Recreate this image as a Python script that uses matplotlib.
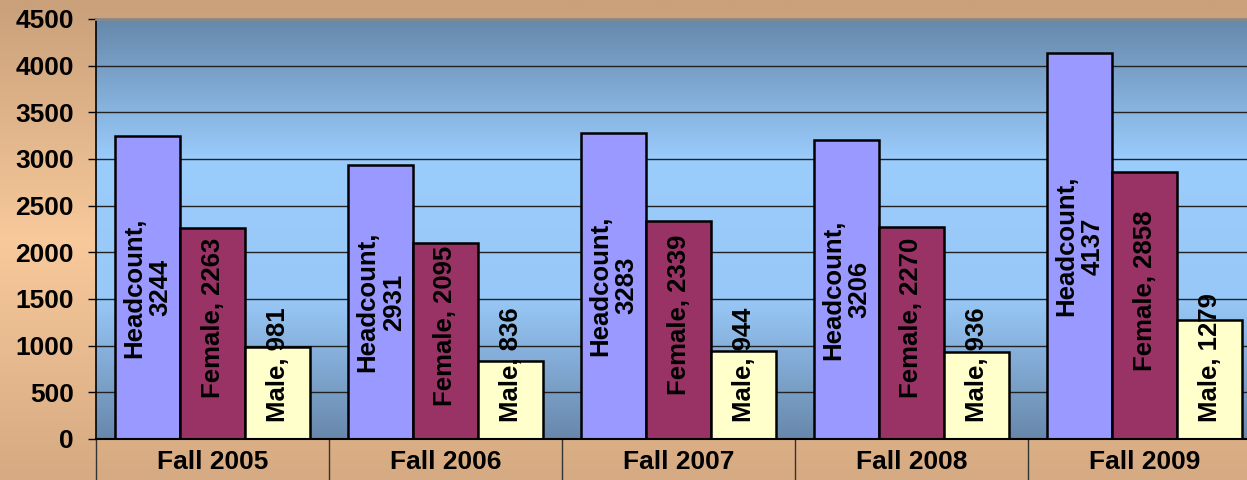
import matplotlib.pyplot as plt
import numpy as np
from matplotlib.colors import LinearSegmentedColormap

plt.rcParams['font.family'] = ['Liberation Sans', 'DejaVu Sans']
plt.rcParams['font.weight'] = 'bold'

terms = ["Fall 2005", "Fall 2006", "Fall 2007", "Fall 2008", "Fall 2009"]
headcount = [3244, 2931, 3283, 3206, 4137]
female = [2263, 2095, 2339, 2270, 2858]
male = [981, 836, 944, 936, 1279]
y_ticks = [0, 500, 1000, 1500, 2000, 2500, 3000, 3500, 4000, 4500]

fig = plt.figure(figsize=(12.47, 4.8), dpi=100)

# tan background of the whole figure
bg = fig.add_axes([0, 0, 1, 1], zorder=-10)
tan = LinearSegmentedColormap.from_list("tan", ["#d6aa82", "#f7c99b", "#c9a07a"])
bg.imshow(np.linspace(0, 1, 256).reshape(-1, 1), cmap=tan, aspect='auto',
          extent=[0, 1, 0, 1], origin='lower')
bg.axis('off')

# plot area runs a little past the right edge, like the original
ax = fig.add_axes([96 / 1247, 41 / 480, 1165 / 1247, 420 / 480])
ax.set_facecolor('none')

# blue gradient plot area
blue = LinearSegmentedColormap.from_list("blue", ["#6888ab", "#98c8f8", "#9accfc", "#6688aa"])
x = np.arange(len(terms))
ax.set_xlim(-0.5, len(terms) - 0.5)
ax.set_ylim(0, 4500)
ax.imshow(np.linspace(0, 1, 256).reshape(-1, 1), cmap=blue, aspect='auto',
          extent=[-0.5, len(terms) - 0.5, 0, 4500], origin='lower', zorder=0)

for t in y_ticks[1:-1]:
    ax.axhline(t, color='#222222', lw=1.0, zorder=1)

w = 0.28
series = [("Headcount", headcount, "#9999ff"),
          ("Female", female, "#993366"),
          ("Male", male, "#ffffcc")]
for i, (name, vals, col) in enumerate(series):
    xs = x + (i - 1) * w
    ax.bar(xs, vals, width=w, color=col, edgecolor='black', linewidth=1.8, zorder=2)
    for xi, v in zip(xs, vals):
        if name == "Headcount":
            ax.text(xi, v / 2, f"{name},\n{v}", rotation=90, ha='center', va='center',
                    fontsize=18.5, fontweight='bold', linespacing=1.15, zorder=3)
        elif name == "Female":
            ax.annotate(f"{name}, {v}", (xi, v / 2), xytext=(0, 11), textcoords='offset points',
                        rotation=90, ha='center', va='center', fontsize=18.5,
                        fontweight='bold', zorder=3)
        else:
            ax.annotate(f"{name}, {v}", (xi, 0), xytext=(0, 12), textcoords='offset points',
                        rotation=90, ha='center', va='bottom', fontsize=18.5,
                        fontweight='bold', zorder=3)

ax.set_yticks(y_ticks)
ax.tick_params(axis='y', direction='out', length=6, width=1, pad=10, labelsize=19)

# category separators as long ticks, labels on minor ticks
ax.set_xticks(np.arange(len(terms) + 1) - 0.5)
ax.set_xticklabels([])
ax.set_xticks(x, minor=True)
ax.set_xticklabels(terms, minor=True, fontsize=19, fontweight='bold')
ax.tick_params(axis='x', which='major', direction='out', length=30, width=1, color='#333333')
ax.tick_params(axis='x', which='minor', length=0, pad=8)

for lab in ax.get_yticklabels():
    lab.set_fontweight('bold')

ax.spines['right'].set_visible(False)
ax.spines['top'].set_color('#888888')
ax.spines['top'].set_linewidth(2)
ax.spines['left'].set_linewidth(1.2)
ax.spines['bottom'].set_linewidth(1.5)

fig.savefig("out.png", dpi=100)
